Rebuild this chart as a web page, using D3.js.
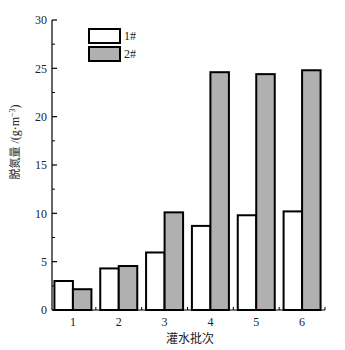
<!DOCTYPE html>
<html><head><meta charset="utf-8">
<script src="https://cdn.jsdelivr.net/npm/d3@7"></script>
<style>body{margin:0;background:#fff}</style>
</head><body>
<svg id="c" width="345" height="350"></svg>
<script>
const categories = [1, 2, 3, 4, 5, 6];
const series1 = [3.0, 4.3, 5.95, 8.7, 9.8, 10.2];
const series2 = [2.15, 4.55, 10.1, 24.6, 24.4, 24.8];
const seriesNames = ["1#", "2#"];
const seriesFills = ["#ffffff", "#b0b0b0"];
const yTicks = [0, 5, 10, 15, 20, 25, 30];
const yMinor = [2.5, 7.5, 12.5, 17.5, 22.5, 27.5];
const xBounds = [1.5, 2.5, 3.5, 4.5, 5.5, 6.5];

const svg = d3.select("#c");
const serif = "'Liberation Serif','DejaVu Serif',serif";
const x = d3.scaleLinear().domain([0.5, 6.5]).range([50, 325]);
const y = d3.scaleLinear().domain([0, 30]).range([310, 20]);
const axisX = 52;
const bw = 18.5;

// bars
const allSeries = [series1, series2];
allSeries.forEach((s, si) => {
  svg.append("g").selectAll("rect").data(s).join("rect")
    .attr("x", (d, i) => x(categories[i]) - bw + si * bw)
    .attr("y", d => y(d))
    .attr("width", bw)
    .attr("height", d => y(0) - y(d))
    .attr("fill", seriesFills[si])
    .attr("stroke", "#000")
    .attr("stroke-width", 2);
});

// y axis
const ya = svg.append("g");
ya.append("line").attr("x1", axisX).attr("x2", axisX).attr("y1", y(30)).attr("y2", y(0)).attr("stroke", "#000").attr("stroke-width", 1.2);
ya.selectAll(".maj").data(yTicks).join("line").attr("x1", axisX).attr("x2", axisX + 5)
  .attr("y1", d => y(d)).attr("y2", d => y(d)).attr("stroke", "#000").attr("stroke-width", 1.2);
ya.selectAll(".min").data(yMinor).join("line").attr("x1", axisX).attr("x2", axisX + 3)
  .attr("y1", d => y(d)).attr("y2", d => y(d)).attr("stroke", "#000").attr("stroke-width", 1);
ya.selectAll("text").data(yTicks).join("text")
  .attr("x", axisX - 5).attr("y", d => y(d)).attr("dy", "0.35em")
  .attr("text-anchor", "end").attr("font-family", serif).attr("font-size", 12).attr("fill", "#222")
  .text(d => d);

// x axis
const xa = svg.append("g");
xa.append("line").attr("x1", axisX).attr("x2", x(6.5)).attr("y1", y(0)).attr("y2", y(0)).attr("stroke", "#000").attr("stroke-width", 1.2);
xa.selectAll(".t").data(xBounds).join("line").attr("x1", d => x(d)).attr("x2", d => x(d))
  .attr("y1", y(0)).attr("y2", y(0) - 3).attr("stroke", "#000").attr("stroke-width", 1);
xa.selectAll("text").data(categories).join("text")
  .attr("x", d => x(d)).attr("y", 326)
  .attr("text-anchor", "middle").attr("font-family", serif).attr("font-size", 12).attr("fill", "#222")
  .text(d => d);

// axis titles
svg.append("text").attr("x", 190).attr("y", 343).attr("text-anchor", "middle")
  .attr("font-family", "'Noto Sans CJK SC',serif").attr("font-size", 12).attr("fill", "#222")
  .text("灌水批次");
const yt = svg.append("text").attr("transform", "translate(19,142) rotate(-90)").attr("text-anchor", "middle")
  .attr("font-family", serif).attr("font-size", 12).attr("fill", "#222");
yt.append("tspan").attr("font-family", "'Noto Sans CJK SC',serif").attr("font-size", 11).text("脱氮量");
yt.append("tspan").text(" /(g·m");
yt.append("tspan").attr("dy", -4).attr("font-size", 8).text("−3");
yt.append("tspan").attr("dy", 4).text(")");

// legend
const lg = svg.append("g");
seriesNames.forEach((n, i) => {
  const ly = 29 + i * 18;
  lg.append("rect").attr("x", 89).attr("y", ly).attr("width", 31).attr("height", 14)
    .attr("fill", seriesFills[i]).attr("stroke", "#000").attr("stroke-width", 2);
  lg.append("text").attr("x", 124).attr("y", ly + 7).attr("dy", "0.35em")
    .attr("font-family", serif).attr("font-size", 12).attr("fill", "#222").text(n);
});
</script>
</body></html>
